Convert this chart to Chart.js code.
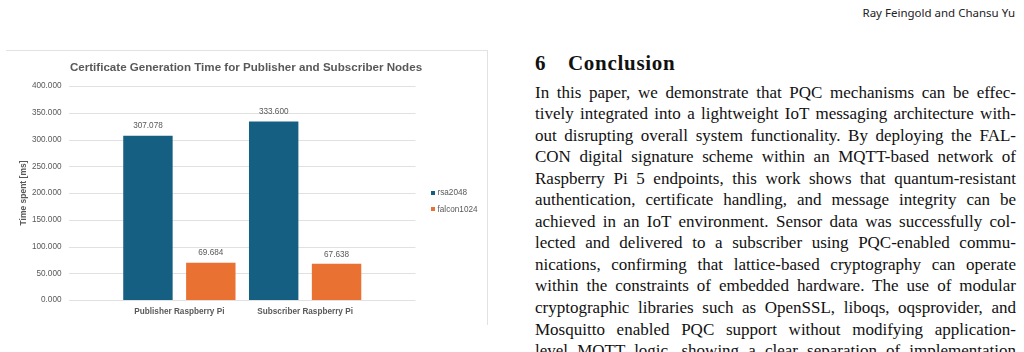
<!DOCTYPE html>
<html>
<head>
<meta charset="utf-8">
<script src="https://cdn.jsdelivr.net/npm/chart.js@4/dist/chart.umd.min.js"></script>
<style>
  html, body { margin: 0; padding: 0; background: #ffffff; }
  body { width: 1024px; height: 352px; overflow: hidden; position: relative; }
  #chartWrap { position: absolute; left: 0; top: 50px; width: 492px; height: 275px; }
  #chartWrap canvas { display: block; }
  #frameTop { position: absolute; left: 6px; top: 50px; width: 482px; height: 1px; background: #e2e2e2; }
  #frameRight { position: absolute; left: 487px; top: 50px; width: 1px; height: 275px; background: #e2e2e2; }
  #runhead { position: absolute; right: 9px; top: 5px; font-family: "Noto Sans", sans-serif; font-size: 11.5px; line-height: 16px; color: #222; white-space: nowrap; }
  #heading { position: absolute; left: 535px; top: 51px; font-family: "Liberation Serif", serif; font-weight: bold; font-size: 21px; line-height: 24px; color: #111; white-space: nowrap; letter-spacing: 0.7px; }
  #heading .num { display: inline-block; width: 33px; }
  #body { position: absolute; left: 535px; top: 81.5px; width: 481px; font-family: "Liberation Serif", serif; font-size: 17px; line-height: 21.55px; color: #111; }
  #body div { text-align: justify; text-align-last: justify; white-space: nowrap; height: 21.55px; }
</style>
</head>
<body>
<div id="chartWrap"><canvas id="c" width="492" height="275"></canvas></div>
<div id="frameTop"></div>
<div id="frameRight"></div>
<div id="runhead">Ray Feingold and Chansu Yu</div>
<div id="heading"><span class="num">6</span>Conclusion</div>
<div id="body"></div>
<script>
// ---- chart data ----
const chartTitle = 'Certificate Generation Time for Publisher and Subscriber Nodes';
const yAxisTitle = 'Time spent [ms]';
const categories = ['Publisher Raspberry Pi', 'Subscriber Raspberry Pi'];
const seriesNames = ['rsa2048', 'falcon1024'];
const rsa2048 = [307.078, 333.600];
const falcon1024 = [69.684, 67.638];
const seriesColors = ['#156082', '#E97132'];
const yMin = 0;
const yMax = 400;
const yStep = 50;

// ---- page text ----
const bodyLines = [
  'In this paper, we demonstrate that PQC mechanisms can be effec-',
  'tively integrated into a lightweight IoT messaging architecture with-',
  'out disrupting overall system functionality. By deploying the FAL-',
  'CON digital signature scheme within an MQTT-based network of',
  'Raspberry Pi 5 endpoints, this work shows that quantum-resistant',
  'authentication, certificate handling, and message integrity can be',
  'achieved in an IoT environment. Sensor data was successfully col-',
  'lected and delivered to a subscriber using PQC-enabled commu-',
  'nications, confirming that lattice-based cryptography can operate',
  'within the constraints of embedded hardware. The use of modular',
  'cryptographic libraries such as OpenSSL, liboqs, oqsprovider, and',
  'Mosquitto enabled PQC support without modifying application-',
  'level MQTT logic, showing a clear separation of implementation'
];
const bodyEl = document.getElementById('body');
bodyLines.forEach(t => { const d = document.createElement('div'); d.textContent = t; bodyEl.appendChild(d); });

const textGray = '#595959';
const FONT = '"Liberation Sans", Arial, sans-serif';
Chart.defaults.font.family = FONT;
Chart.defaults.color = textGray;

const fmt = v => Number(v).toFixed(3);

// gridlines extended beyond the category band (Excel-like plot area)
const gridPlugin = {
  id: 'extGrid',
  beforeDatasetsDraw(chart) {
    const y = chart.scales.y, ca = chart.chartArea, ctx = chart.ctx;
    ctx.save();
    ctx.strokeStyle = '#e1e1e1';
    ctx.lineWidth = 1;
    y.ticks.forEach(t => {
      const py = Math.round(y.getPixelForValue(t.value)) + 0.5;
      ctx.beginPath();
      ctx.moveTo(ca.left - 47.5, py);
      ctx.lineTo(ca.right + 47.5, py);
      ctx.stroke();
    });
    ctx.restore();
  }
};

// value labels above bars
const labelPlugin = {
  id: 'valLabels',
  afterDatasetsDraw(chart) {
    const ctx = chart.ctx;
    ctx.save();
    ctx.font = '8.2px ' + FONT;
    ctx.fillStyle = textGray;
    ctx.textAlign = 'center';
    ctx.textBaseline = 'middle';
    chart.data.datasets.forEach((ds, i) => {
      chart.getDatasetMeta(i).data.forEach((el, j) => {
        ctx.fillText(fmt(ds.data[j]), el.x, el.y - 9.5);
      });
    });
    ctx.restore();
  }
};

// legend at right, Excel style
const legendPlugin = {
  id: 'sideLegend',
  afterDraw(chart) {
    const ctx = chart.ctx, ca = chart.chartArea;
    ctx.save();
    ctx.font = '8.2px ' + FONT;
    ctx.textBaseline = 'middle';
    ctx.textAlign = 'left';
    const x0 = ca.right + 63;
    const y0 = ca.top + 106.7;
    chart.data.datasets.forEach((ds, i) => {
      const cy = y0 + i * 16.6;
      ctx.fillStyle = ds.backgroundColor;
      ctx.fillRect(x0, Math.round(cy - 2), 4, 4);
      ctx.fillStyle = textGray;
      ctx.fillText(ds.label, x0 + 6.5, cy);
    });
    ctx.restore();
  }
};

new Chart(document.getElementById('c'), {
  type: 'bar',
  data: {
    labels: categories,
    datasets: [
      { label: seriesNames[0], data: rsa2048, backgroundColor: seriesColors[0], borderWidth: 0 },
      { label: seriesNames[1], data: falcon1024, backgroundColor: seriesColors[1], borderWidth: 0 }
    ]
  },
  options: {
    responsive: false,
    animation: false,
    devicePixelRatio: 1,
    layout: { padding: 0 },
    datasets: { bar: { categoryPercentage: 1.0, barPercentage: 0.786 } },
    plugins: {
      legend: { display: false },
      tooltip: { enabled: false },
      title: {
        display: true,
        text: chartTitle,
        color: textGray,
        font: { size: 11.6, weight: 'bold', family: FONT, lineHeight: 1.2 },
        padding: { top: 10.5, bottom: 11.6 }
      }
    },
    scales: {
      x: {
        grid: { display: false, drawTicks: false },
        border: { display: false },
        ticks: { color: textGray, font: { size: 8.2, weight: 'bold' }, padding: 7, maxRotation: 0 },
        afterFit(s) { s.height = 25; s.paddingLeft = 0; s.paddingRight = 0; }
      },
      y: {
        position: 'left',
        min: yMin, max: yMax,
        grid: { display: false, drawTicks: false },
        border: { display: false },
        ticks: { stepSize: yStep, color: textGray, font: { size: 8.2 }, padding: 55, callback: v => fmt(v) },
        title: { display: true, text: yAxisTitle, color: textGray, font: { size: 8.5, weight: 'bold', lineHeight: 1.2 }, padding: { top: 19, bottom: 0 } },
        afterFit(s) { s.width = 116.5; s.paddingTop = 0; s.paddingBottom = 0; }
      },
      yRight: {
        type: 'linear',
        position: 'right',
        display: true,
        grid: { display: false, drawTicks: false },
        border: { display: false },
        ticks: { display: false },
        afterFit(s) { s.width = 124; s.paddingTop = 0; s.paddingBottom = 0; }
      }
    }
  },
  plugins: [gridPlugin, labelPlugin, legendPlugin]
});
</script>
</body>
</html>
